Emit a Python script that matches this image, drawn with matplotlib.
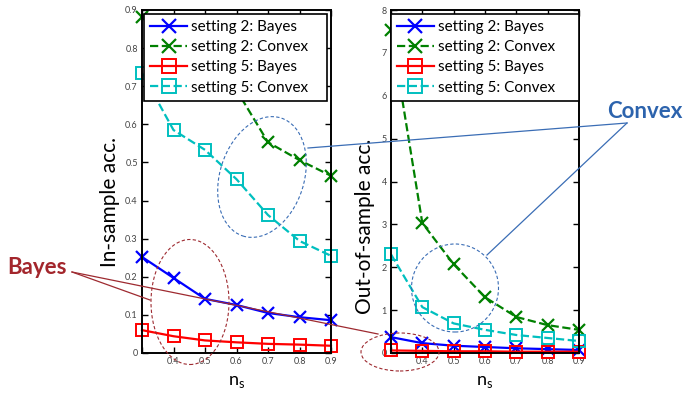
import matplotlib
matplotlib.use("Agg")
import matplotlib.pyplot as plt
from matplotlib.patches import Ellipse
from matplotlib.lines import Line2D
from matplotlib.transforms import IdentityTransform

plt.rcParams["font.family"] = ["Lato", "DejaVu Sans"]

ns = [0.3, 0.4, 0.5, 0.6, 0.7, 0.8, 0.9]

# in-sample accuracy
in_s2_bayes = [0.252, 0.197, 0.142, 0.126, 0.105, 0.094, 0.086]
in_s2_convex = [0.882, 0.80, 0.74, 0.69, 0.553, 0.506, 0.465]
in_s5_bayes = [0.060, 0.044, 0.033, 0.028, 0.024, 0.022, 0.019]
in_s5_convex = [0.735, 0.585, 0.533, 0.456, 0.362, 0.294, 0.255]

# out-of-sample accuracy
out_s2_bayes = [0.37, 0.23, 0.17, 0.14, 0.11, 0.09, 0.07]
out_s2_convex = [7.53, 3.03, 2.07, 1.30, 0.84, 0.65, 0.54]
out_s5_bayes = [0.06, 0.05, 0.04, 0.04, 0.03, 0.03, 0.03]
out_s5_convex = [2.30, 1.07, 0.69, 0.54, 0.42, 0.35, 0.28]

xticks = [0.4, 0.5, 0.6, 0.7, 0.8, 0.9]
xticklabels = ["0.4", "0.5", "0.6", "0.7", "0.8", "0.9"]

W, H = 688, 393
fig = plt.figure(figsize=(W / 100, H / 100), dpi=100)


def px(x, y):
    return (x, H - y)


def draw_panel(ax, s2b, s2c, s5b, s5c, ymax, yticks, ylabel, ylab_pos, leg_box):
    ax.plot(ns, s2b, color="blue", lw=1.6, marker="x", ms=9, mew=1.6,
            label="setting 2: Bayes")
    ax.plot(ns, s2c, color="green", lw=1.6, ls="--", marker="x", ms=9,
            mew=1.6, label="setting 2: Convex")
    ax.plot(ns, s5b, color="red", lw=1.6, marker="s", ms=9, mew=1.4,
            mfc="none", label="setting 5: Bayes")
    ax.plot(ns, s5c, color="#00bfbf", lw=1.6, ls="--", marker="s", ms=9,
            mew=1.4, mfc="none", label="setting 5: Convex")
    ax.set_xlim(0.3, 0.9)
    ax.set_ylim(0, ymax)
    ax.set_xticks([0.3] + xticks)
    ax.set_xticklabels([""] + xticklabels)
    ax.set_yticks(yticks)
    ax.set_yticklabels([f"{t:g}" for t in yticks])
    ax.tick_params(direction="in", top=True, right=True, length=4, width=1,
                   labelsize=6.5, labelcolor="#444444", pad=3)
    for sp in ax.spines.values():
        sp.set_linewidth(1.4)
    for line in ax.lines:
        line.set_clip_on(False)
    ax.set_xlabel(r"n$_\mathregular{s}$", fontsize=13, labelpad=6)
    ax.set_ylabel(ylabel, fontsize=15)
    ax.yaxis.set_label_coords(*ylab_pos)
    leg = ax.legend(loc="upper left", bbox_to_anchor=leg_box, mode="expand",
                    fontsize=11, handlelength=2.4, borderpad=0.4,
                    labelspacing=0.4, handletextpad=0.3, fancybox=False,
                    framealpha=1, borderaxespad=0, markerscale=1.1)
    leg.get_frame().set_edgecolor("black")
    leg.get_frame().set_linewidth(1.2)
    leg.set_zorder(5)


ax1 = fig.add_axes([142 / W, 1 - 353 / H, 189 / W, 343 / H])
ax2 = fig.add_axes([391 / W, 1 - 353 / H, 188 / W, 343 / H])

draw_panel(ax1, in_s2_bayes, in_s2_convex, in_s5_bayes, in_s5_convex,
           0.9, [0, 0.1, 0.2, 0.3, 0.4, 0.5, 0.6, 0.7, 0.8, 0.9],
           "In-sample acc.", (-0.115, 0.44), (0.011, 0.0, 0.968, 0.988))
draw_panel(ax2, out_s2_bayes, out_s2_convex, out_s5_bayes, out_s5_convex,
           8, [0, 1, 2, 3, 4, 5, 6, 7, 8], "Out-of-sample acc.",
           (-0.085, 0.37), (0.0, 0.0, 1.0, 0.988))

# callout groups drawn in pixel space on top of both panels
blue = "#3a6db5"
dred = "#9e2a30"
ident = IdentityTransform()

for (cx, cy, w, h, ang, col) in [
    (262, 177, 84, 124, -18, blue),
    (455, 288, 87, 88, 0, blue),
    (190, 302, 78, 125, 0, dred),
    (400, 352, 78, 38, 0, dred),
]:
    e = Ellipse(px(cx, cy), w, h, angle=ang, fill=False, ls=(0, (3, 2)),
                lw=0.8, edgecolor=col, transform=ident, zorder=10)
    fig.add_artist(e)

for (x0, y0, x1, y1, col) in [
    (627, 123, 308, 148, blue),
    (627, 123, 487, 255, blue),
    (72, 272, 150, 300, dred),
    (72, 272, 378, 334, dred),
]:
    p0, p1 = px(x0, y0), px(x1, y1)
    fig.add_artist(Line2D([p0[0], p1[0]], [p0[1], p1[1]], color=col, lw=0.9,
                          transform=ident, zorder=10))

fig.text(645 / W, 1 - 111 / H, "Convex", color="#2c63ad", fontsize=16,
         fontweight="bold", ha="center", va="center")
fig.text(37 / W, 1 - 268 / H, "Bayes", color="#a3262c", fontsize=16,
         fontweight="bold", ha="center", va="center")

fig.savefig("out.png", dpi=100)
